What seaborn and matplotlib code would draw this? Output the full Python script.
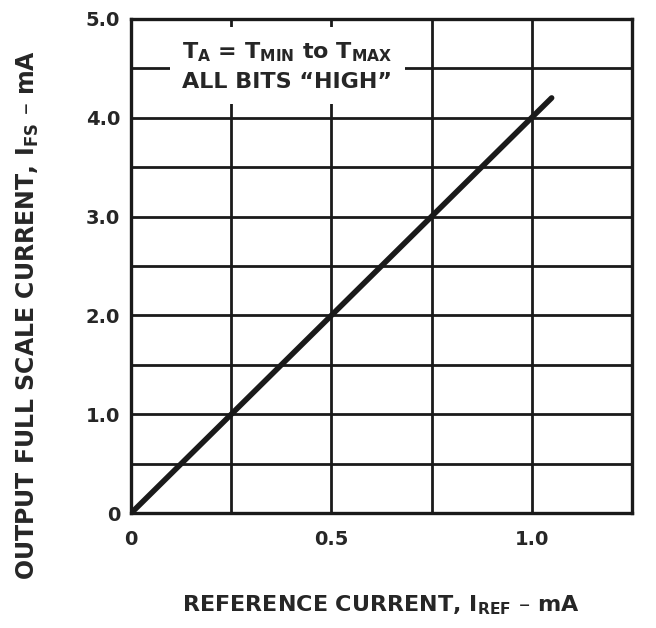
import numpy as np
import pandas as pd
import matplotlib.pyplot as plt
import seaborn as sns

# transfer curve
i_ref = [0.0, 0.25, 0.5, 0.75, 1.0, 1.05]
i_fs = [0.0, 1.0, 2.0, 3.0, 4.0, 4.2]

x_ticks = [0, 0.5, 1.0]
x_ticklabels = ["0", "0.5", "1.0"]
y_ticks = [0, 1, 2, 3, 4, 5]
y_ticklabels = ["0", "1.0", "2.0", "3.0", "4.0", "5.0"]

df = pd.DataFrame({"iref": i_ref, "ifs": i_fs})

sns.set_style("white")
plt.rcParams["font.family"] = ["DejaVu Sans"]

fig = plt.figure(figsize=(6.56, 6.28), dpi=100)
ax = fig.add_axes([0.2, 0.183, 0.763, 0.787])

sns.lineplot(data=df, x="iref", y="ifs", color="#1a1a1a", linewidth=4, ax=ax, zorder=3)

ax.set_xlim(0, 1.25)
ax.set_ylim(0, 5)
ax.set_xticks(np.arange(0, 1.26, 0.25), minor=True)
ax.set_yticks(np.arange(0, 5.01, 0.5), minor=True)
ax.set_xticks(x_ticks)
ax.set_xticklabels(x_ticklabels, fontsize=14, fontweight="bold")
ax.set_yticks(y_ticks)
ax.set_yticklabels(y_ticklabels, fontsize=14, fontweight="bold")
ax.grid(True, which="both", color="#1a1a1a", linewidth=2)
ax.tick_params(axis="x", length=0, pad=12)
ax.tick_params(axis="y", length=0, pad=8)
for s in ax.spines.values():
    s.set_color("#1a1a1a")
    s.set_linewidth(2.4)

ax.text(0.39, 4.52, "$\\mathbf{T_A}$ = $\\mathbf{T_{MIN}}$ to $\\mathbf{T_{MAX}}$\nALL BITS \u201cHIGH\u201d",
        ha="center", va="center", fontsize=16, fontweight="bold", linespacing=1.45,
        bbox=dict(facecolor="white", edgecolor="none", pad=9), zorder=4)

ax.set_xlabel("REFERENCE CURRENT, $\\mathbf{I_{REF}}$ \u2013 mA", fontsize=16, fontweight="bold", labelpad=32)
ax.set_ylabel("OUTPUT FULL SCALE CURRENT, $\\mathbf{I_{FS}}$ \u2013 mA", fontsize=17, fontweight="bold",
              ha="left")
ax.yaxis.set_label_coords(-0.18, -0.135)

fig.savefig("out.png", dpi=100)
